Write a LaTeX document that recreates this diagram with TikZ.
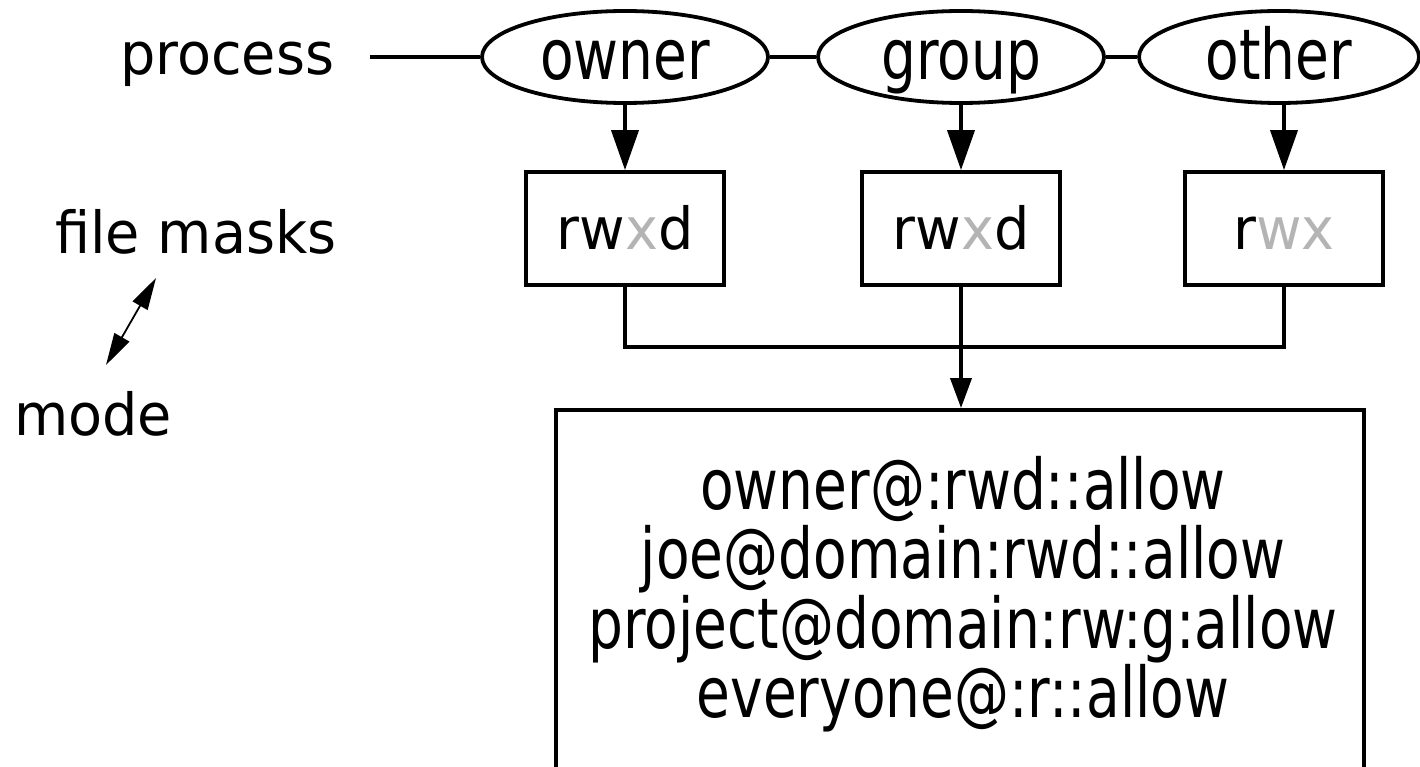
\documentclass[tikz,border=0pt]{standalone}
\usepackage{fontspec}
\setmainfont{DejaVu Sans}
\newfontfamily\labelfont[FakeStretch=0.96]{DejaVu Sans}
\newfontfamily\boxfont[FakeStretch=0.785]{DejaVu Sans}
\usetikzlibrary{shapes.geometric,arrows.meta,calc}
\definecolor{faded}{RGB}{180,180,180}

\begin{document}
\begin{tikzpicture}[x=1pt,y=-1pt,
  lbl/.style={font=\labelfont\fontsize{58}{66}\selectfont, inner sep=0pt},
  role/.style={ellipse, draw, line width=3.8pt, minimum width=286pt,
    minimum height=92pt, inner sep=0pt,
    font=\boxfont\fontsize{70}{70}\selectfont,
    text height=46pt, text depth=0pt},
  maskbox/.style={rectangle, draw, line width=3.8pt, minimum width=198pt,
    minimum height=113pt, inner sep=0pt,
    font=\labelfont\fontsize{58}{66}\selectfont,
    text height=43pt, text depth=0pt},
  aclbox/.style={rectangle, draw, line width=3.8pt, minimum width=808pt,
    minimum height=390pt, inner sep=0pt},
  acltext/.style={align=center, inner sep=0pt,
    font=\boxfont\fontsize{70}{69.5}\selectfont},
  link/.style={line width=3.8pt},
  flow/.style={line width=3.8pt, -{Triangle[length=40pt,width=27pt]}},
  merge/.style={line width=3.8pt, -{Triangle[length=30pt,width=21pt]}},
  swap/.style={line width=1.8pt,
    {Triangle[length=32pt,width=17pt]}-{Triangle[length=32pt,width=17pt]}}]

\useasboundingbox (0,0) rectangle (1420,767);
\clip (0,0) rectangle (1420,767);

% left-hand captions
\node[lbl, anchor=base] (process) at (227,75) {process};
\node[lbl, anchor=base] (masks) at (196,253) {file masks};
\node[lbl, anchor=base] (mode) at (93,435) {mode};
\coordinate (masktip) at (156,278);
\coordinate (modetip) at (106,365);
\draw[swap] (modetip) -- (masktip);

% process credentials
\node[role] (owner) at (625,57) {owner};
\node[role] (group) at (961,57) {group};
\node[role, minimum width=280pt] (other) at (1279,57) {other};

\draw[link] ($(process.east |- owner.center)+(36,0)$) -- (owner);
\draw[link] (owner) -- (group);
\draw[link] (group) -- (other);

% per-class file masks
\node[maskbox] (m1) at (625,228.5) {rw\textcolor{faded}{x}d};
\node[maskbox] (m2) at (961,228.5) {rw\textcolor{faded}{x}d};
\node[maskbox] (m3) at (1284,228.5) {r\textcolor{faded}{wx}};

\draw[flow] (owner.south -| m1.north) -- (m1.north);
\draw[flow] (group.south -| m2.north) -- (m2.north);
\draw[flow] (other.south -| m3.north) -- (m3.north);

% ACL entries
\node[aclbox] (acl) at (960,605) {};
\node[acltext] (entries) at (963,594) {owner@:rwd::allow\\joe@domain:rwd::allow\\project@domain:rw:g:allow\\everyone@:r::allow};

\coordinate (join) at (961,347);
\draw[link] (m1.south) |- (join) -| (m3.south);
\draw[merge] (m2.south) -- (m2.south |- acl.north);
\end{tikzpicture}
\end{document}
